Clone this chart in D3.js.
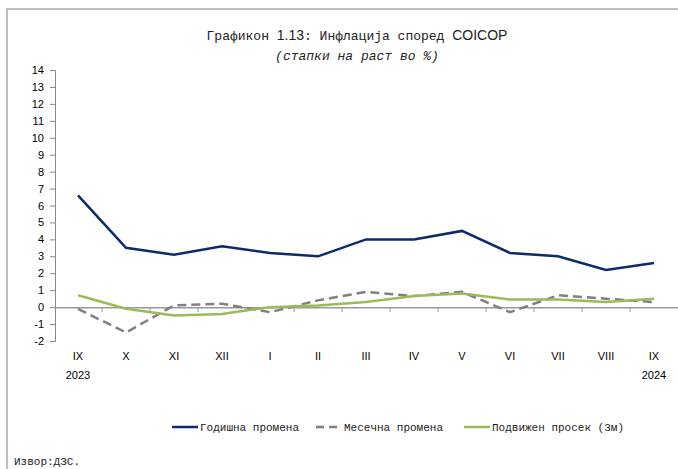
<!DOCTYPE html>
<html><head><meta charset="utf-8">
<script src="https://cdn.jsdelivr.net/npm/d3@7"></script>
<style>body{margin:0;background:#fff}svg{display:block}</style>
</head><body>
<script>
const categories = ["IX","X","XI","XII","I","II","III","IV","V","VI","VII","VIII","IX "];
const yearLabels = ["2023","","","","","","","","","","","","2024"];
const annual  = [6.6,3.5,3.1,3.6,3.2,3.0,4.0,4.0,4.5,3.2,3.0,2.2,2.6];
const monthly = [-0.1,-1.5,0.1,0.2,-0.3,0.4,0.9,0.65,0.9,-0.3,0.7,0.5,0.3];
const moving  = [0.7,-0.1,-0.5,-0.4,0.0,0.1,0.3,0.65,0.8,0.45,0.45,0.3,0.5];
const yTicks = d3.range(-2,15,1);
const seriesNames = ["Годишна промена","Месечна промена","Подвижен просек (3м)"];

const W=678,H=469;
const svg=d3.select("body").append("svg").attr("width",W).attr("height",H);
// frame
svg.append("path").attr("d",`M7,469 V9 H678`).attr("fill","none").attr("stroke","#bfbfbf").attr("stroke-width",2);

const x=d3.scaleBand().domain(categories).range([54,678]).padding(0);
const y=d3.scaleLinear().domain([-2,14]).range([341,70]);
const cx=d=>x(d)+x.bandwidth()/2;

// title
const t=svg.append("text").attr("x",357).attr("y",40).attr("text-anchor","middle").attr("fill","#222");
t.append("tspan").attr("font-family","Liberation Mono, DejaVu Sans Mono").attr("font-size",13).text("Графикон ");
t.append("tspan").attr("font-family","Liberation Sans, Arial").attr("font-size",14).text("1.13");
t.append("tspan").attr("font-family","Liberation Mono, DejaVu Sans Mono").attr("font-size",13).text(": Инфлација според ");
t.append("tspan").attr("font-family","Liberation Sans, Arial").attr("font-size",14).text("COICOP");
svg.append("text").attr("x",357).attr("y",60).attr("text-anchor","middle").attr("fill","#222")
  .attr("font-family","Liberation Mono, DejaVu Sans Mono").attr("font-size",13).attr("font-style","italic")
  .text("(стапки на раст во %)");

// y axis
const ya=svg.append("g").attr("transform","translate(55,0)").call(d3.axisLeft(y).tickValues(yTicks).tickSize(5).tickPadding(6).tickFormat(d=>String(d)));
ya.selectAll("text").attr("font-family","Liberation Sans, Arial").attr("font-size",11).attr("fill","#000");
ya.selectAll("line,path").attr("stroke","#888");

// x axis at zero
const xa=svg.append("g").attr("transform",`translate(0,${y(0)})`).call(d3.axisBottom(x).tickSize(0).tickFormat(""));
xa.select("path").attr("stroke","#999").attr("stroke-width",1.5);
xa.selectAll(".tick").remove();
svg.append("g").selectAll("line").data(categories.slice(1)).join("line")
  .attr("x1",d=>x(d)).attr("x2",d=>x(d)).attr("y1",y(0)).attr("y2",y(0)+5).attr("stroke","#999");

// category labels
svg.append("g").selectAll("text").data(categories).join("text")
  .attr("x",d=>cx(d)).attr("y",360).attr("text-anchor","middle")
  .attr("font-family","Liberation Sans, Arial").attr("font-size",11).text(d=>d.trim());
svg.append("g").selectAll("text").data(categories.filter((d,i)=>yearLabels[i])).join("text")
  .attr("x",d=>cx(d)).attr("y",379).attr("text-anchor","middle")
  .attr("font-family","Liberation Sans, Arial").attr("font-size",11)
  .text(d=>yearLabels[categories.indexOf(d)]);

const line=d3.line().x((d,i)=>cx(categories[i])).y(d=>y(d));
svg.append("path").datum(monthly).attr("d",line).attr("fill","none").attr("stroke","#808080").attr("stroke-width",2.5).attr("stroke-dasharray","9,5");
svg.append("path").datum(moving).attr("d",line).attr("fill","none").attr("stroke","#9bbb59").attr("stroke-width",2.5);
svg.append("path").datum(annual).attr("d",line).attr("fill","none").attr("stroke","#0d2a6b").attr("stroke-width",2.5);

// legend
const leg=[{x:172,c:"#0d2a6b",d:null},{x:316,c:"#808080",d:"8,5"},{x:464,c:"#9bbb59",d:null}];
leg.forEach((l,i)=>{
  svg.append("line").attr("x1",l.x).attr("x2",l.x+26).attr("y1",427).attr("y2",427).attr("stroke",l.c).attr("stroke-width",2.5).attr("stroke-dasharray",l.d);
  svg.append("text").attr("x",l.x+28).attr("y",431).attr("font-family","Liberation Mono, DejaVu Sans Mono").attr("font-size",11).attr("fill","#222").text(seriesNames[i]);
});
svg.append("text").attr("x",14).attr("y",465).attr("font-family","Liberation Mono, DejaVu Sans Mono").attr("font-size",11).attr("fill","#222").text("Извор:ДЗС.");
</script>
</body></html>
